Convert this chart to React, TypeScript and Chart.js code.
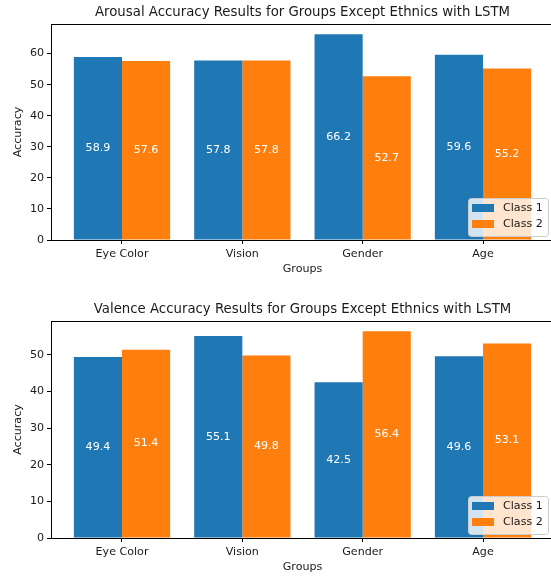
import React, { useEffect, useRef } from "react";
import { Chart, registerables } from "chart.js";

Chart.register(...registerables);

const categories = ["Eye Color", "Vision", "Gender", "Age"];
const seriesLabels = ["Class 1", "Class 2"];
const arousalClass1 = [58.9, 57.8, 66.2, 59.6];
const arousalClass2 = [57.6, 57.8, 52.7, 55.2];
const valenceClass1 = [49.4, 55.1, 42.5, 49.6];
const valenceClass2 = [51.4, 49.8, 56.4, 53.1];
const yTickStep = 10;

const BLUE = "#1f77b4";
const ORANGE = "#ff7f0e";
const FONT = "'DejaVu Sans', 'Liberation Sans', sans-serif";
const TEXT = "#1a1a1a";
const FS = 11.1;
const TS = 13.3;

type Cfg = {
  title: string;
  c1: number[];
  c2: number[];
  padTop: number;
  xScaleH: number;
};

function makeChart(canvas: HTMLCanvasElement, cfg: Cfg) {
  const ymax = Math.max(...cfg.c1, ...cfg.c2) * 1.05;
  const decorPlugin = {
    id: "decor",
    afterDatasetsDraw(chart: any) {
      const ctx = chart.ctx;
      ctx.save();
      ctx.font = `${FS}px ${FONT}`;
      ctx.fillStyle = "#ffffff";
      ctx.textAlign = "center";
      ctx.textBaseline = "middle";
      chart.data.datasets.forEach((ds: any, di: number) => {
        const meta = chart.getDatasetMeta(di);
        meta.data.forEach((el: any, i: number) => {
          const v = ds.data[i].y;
          ctx.fillText(v.toFixed(1), el.x, (el.y + el.base) / 2);
        });
      });
      ctx.restore();
    },
    afterDraw(chart: any) {
      const ctx = chart.ctx;
      const ca = chart.chartArea;
      ctx.save();
      ctx.strokeStyle = "#000";
      ctx.lineWidth = 1;
      ctx.beginPath();
      ctx.moveTo(ca.left, Math.round(ca.top) + 0.5);
      ctx.lineTo(ca.right, Math.round(ca.top) + 0.5);
      ctx.stroke();
      ctx.fillStyle = TEXT;
      ctx.font = `${TS}px ${FONT}`;
      ctx.textAlign = "center";
      ctx.textBaseline = "middle";
      ctx.fillText(cfg.title, (ca.left + ca.right) / 2, ca.top - 11.5);
      ctx.font = `${FS}px ${FONT}`;
      ctx.fillText("Groups", (ca.left + ca.right) / 2, ca.bottom + 29);
      ctx.save();
      ctx.translate(18, (ca.top + ca.bottom) / 2);
      ctx.rotate(-Math.PI / 2);
      ctx.fillText("Accuracy", 0, 0);
      ctx.restore();
      const w = 80, h = 38;
      const lx = ca.right - 6 - w;
      const ly = ca.bottom - 4 - h;
      ctx.fillStyle = "rgba(255,255,255,0.8)";
      ctx.strokeStyle = "#cccccc";
      ctx.lineWidth = 1;
      ctx.beginPath();
      (ctx as any).roundRect(Math.round(lx) + 0.5, Math.round(ly) + 0.5, w, h, 3);
      ctx.fill();
      ctx.stroke();
      const colors = [BLUE, ORANGE];
      chart.data.datasets.forEach((ds: any, i: number) => {
        const cy = ly + 10 + i * 16;
        ctx.fillStyle = colors[i];
        ctx.fillRect(lx + 4, cy - 4, 22, 8);
        ctx.fillStyle = TEXT;
        ctx.textAlign = "left";
        ctx.textBaseline = "middle";
        ctx.font = `${FS}px ${FONT}`;
        ctx.fillText(ds.label, lx + 35, cy);
      });
      ctx.restore();
    },
  };

  return new Chart(canvas, {
    type: "bar",
    data: {
      datasets: [
        {
          label: seriesLabels[0],
          data: cfg.c1.map((v, i) => ({ x: i, y: v })),
          backgroundColor: BLUE,
          categoryPercentage: 0.8,
          barPercentage: 1.0,
        },
        {
          label: seriesLabels[1],
          data: cfg.c2.map((v, i) => ({ x: i, y: v })),
          backgroundColor: ORANGE,
          categoryPercentage: 0.8,
          barPercentage: 1.0,
        },
      ] as any,
    },
    options: {
      responsive: false,
      animation: false,
      devicePixelRatio: 1,
      layout: { padding: { top: cfg.padTop, left: 0, right: 2, bottom: 0 } },
      plugins: {
        legend: { display: false },
        title: { display: false },
        tooltip: { enabled: false },
      },
      scales: {
        x: {
          type: "linear",
          min: -0.59,
          max: 3.59,
          offset: false,
          afterBuildTicks: (s: any) => {
            s.ticks = categories.map((_, i) => ({ value: i }));
          },
          afterFit: (s: any) => {
            s.height = cfg.xScaleH;
          },
          grid: {
            offset: false,
            drawOnChartArea: false,
            drawTicks: true,
            tickLength: 4,
            tickColor: "#000",
          },
          border: { display: true, color: "#000", width: 1 },
          ticks: {
            autoSkip: false,
            maxRotation: 0,
            padding: 3,
            color: TEXT,
            font: { family: FONT, size: FS },
            callback: (v: any) => categories[v] ?? "",
          },
        } as any,
        y: {
          type: "linear",
          min: 0,
          max: ymax,
          afterBuildTicks: (s: any) => {
            const t: any[] = [];
            for (let v = 0; v <= ymax; v += yTickStep) t.push({ value: v });
            s.ticks = t;
          },
          afterFit: (s: any) => {
            s.width = 51;
          },
          grid: {
            drawOnChartArea: false,
            drawTicks: true,
            tickLength: 4,
            tickColor: "#000",
          },
          border: { display: true, color: "#000", width: 1 },
          ticks: {
            padding: 3,
            color: TEXT,
            font: { family: FONT, size: FS },
          },
        } as any,
      },
    },
    plugins: [decorPlugin],
  });
}

export default function App() {
  const ref1 = useRef<HTMLCanvasElement>(null);
  const ref2 = useRef<HTMLCanvasElement>(null);
  useEffect(() => {
    const c1 = makeChart(ref1.current!, {
      title: "Arousal Accuracy Results for Groups Except Ethnics with LSTM",
      c1: arousalClass1,
      c2: arousalClass2,
      padTop: 24,
      xScaleH: 48,
    });
    const c2 = makeChart(ref2.current!, {
      title: "Valence Accuracy Results for Groups Except Ethnics with LSTM",
      c1: valenceClass1,
      c2: valenceClass2,
      padTop: 33,
      xScaleH: 38,
    });
    return () => {
      c1.destroy();
      c2.destroy();
    };
  }, []);
  return (
    <div
      style={{
        position: "fixed",
        left: 0,
        top: 0,
        width: 551,
        height: 576,
        overflow: "hidden",
        background: "#fff",
      }}
    >
      <canvas
        ref={ref1}
        width={556}
        height={288}
        style={{ position: "absolute", left: 0, top: 0, width: 556, height: 288 }}
      />
      <canvas
        ref={ref2}
        width={556}
        height={288}
        style={{ position: "absolute", left: 0, top: 288, width: 556, height: 288 }}
      />
    </div>
  );
}
